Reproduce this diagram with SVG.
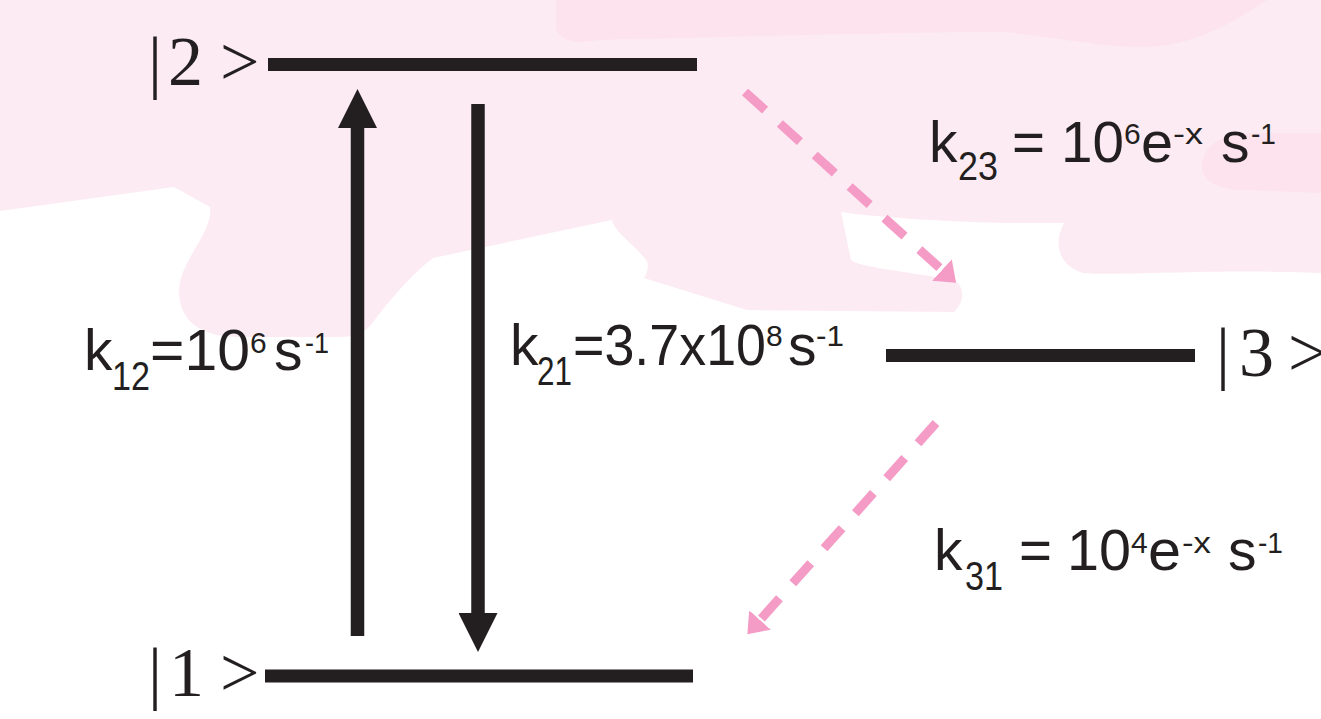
<svg xmlns="http://www.w3.org/2000/svg" width="1321" height="719" viewBox="0 0 1321 719">
<style>
.bg{fill:#fdebf3}
.bg2{fill:#fce3ed}
.bar{stroke:#231f20;stroke-width:13;fill:none}
.shaft{stroke:#231f20;stroke-width:13.5;fill:none}
.dash{stroke:#f49bc6;stroke-width:9;fill:none;stroke-dasharray:27 20}
.state{font-family:"Liberation Serif","Times New Roman",serif;font-size:70px;fill:#231f20}
.rate text{font-family:"Liberation Sans",Arial,sans-serif;font-size:57px;fill:#231f20}
.rate text.sub{font-size:40px}
.rate text.sup{font-size:30px}
</style>
<defs>
<marker id="headBlack" markerUnits="userSpaceOnUse" viewBox="0 -19.5 39 39" refX="0" refY="0" markerWidth="39" markerHeight="39" orient="auto">
<path d="M0,-19.5 L39,0 L0,19.5 Z" fill="#231f20"/>
</marker>
<marker id="headPink" markerUnits="userSpaceOnUse" viewBox="0 -14.5 19 29" refX="0" refY="0" markerWidth="19" markerHeight="29" orient="auto">
<path d="M0,-14.5 L19,0 L0,14.5 Z" fill="#f49bc6"/>
</marker>
</defs>
<rect width="1321" height="719" fill="#ffffff"/>
<g id="background">
<path class="bg" d="M0,0 H1321 V273 L1290,272 C1200,270 1110,276 1083,273 C1060,266 1052,245 1064,223 L1009,223 C960,222 880,218 841,212 L851,260 C856,266 900,271 954,280 C964,286 966,300 954,312 L747,310 L644,278 C648,272 649,264 646,260 C636,246 614,232 612,220 L433,258 C410,276 388,302 370,326 C362,334 352,337 340,337 L240,337 C202,337 180,322 179,293 C178,262 214,232 210,207 L174,187 L0,211 Z"/>
<path class="bg2" d="M556,0 V26 C556,36 566,42 582,42 L600,40 C700,38 900,32 1005,32 C1060,38 1100,47 1142,47 C1190,47 1230,25 1267,0 Z"/>
<path class="bg2" d="M1321,133 L1244,133 C1216,135 1202,150 1202,167 C1202,182 1220,190 1244,190 L1321,193 Z"/>
</g>
<g id="level2">
<line class="bar" x1="268" y1="64.5" x2="697" y2="64.5"/>
<text class="state"><tspan x="148" y="85">|</tspan><tspan x="168" y="85">2</tspan><tspan x="220" y="85">&gt;</tspan></text>
</g>
<g id="level1">
<line class="bar" x1="265" y1="676" x2="693" y2="676"/>
<text class="state"><tspan x="148" y="696">|</tspan><tspan x="169" y="696">1</tspan><tspan x="220" y="696">&gt;</tspan></text>
</g>
<g id="level3">
<line class="bar" x1="886" y1="355.5" x2="1195" y2="355.5"/>
<text class="state"><tspan x="1216" y="376">|</tspan><tspan x="1239" y="376">3</tspan><tspan x="1288" y="376">&gt;</tspan></text>
</g>
<g id="connectors">
<line class="shaft" x1="357.5" y1="636" x2="357.5" y2="128" marker-end="url(#headBlack)"/>
<line class="shaft" x1="478" y1="104" x2="478" y2="613" marker-end="url(#headBlack)"/>
<line class="dash" x1="745" y1="92" x2="942" y2="270" marker-end="url(#headPink)"/>
<line class="dash" x1="936" y1="423" x2="760" y2="620" marker-end="url(#headPink)"/>
</g>
<g id="rate-labels">
<g id="k12" class="rate">
<text x="84" y="370">k</text>
<text class="sub" x="112" y="390" textLength="38" lengthAdjust="spacingAndGlyphs">12</text>
<text x="150" y="370" textLength="100" lengthAdjust="spacingAndGlyphs">=10</text>
<text class="sup" x="250" y="353">6</text>
<text x="274" y="370">s</text>
<text class="sup" x="305" y="353" textLength="24" lengthAdjust="spacingAndGlyphs">-1</text>
</g>
<g id="k21" class="rate">
<text x="510" y="365">k</text>
<text class="sub" x="537" y="385" textLength="35" lengthAdjust="spacingAndGlyphs">21</text>
<text x="573" y="365" textLength="193" lengthAdjust="spacingAndGlyphs">=3.7x10</text>
<text class="sup" x="766" y="346">8</text>
<text x="788" y="365">s</text>
<text class="sup" x="816" y="346" textLength="28" lengthAdjust="spacingAndGlyphs">-1</text>
</g>
<g id="k23" class="rate">
<text x="929" y="162">k</text>
<text class="sub" x="958" y="180" textLength="40" lengthAdjust="spacingAndGlyphs">23</text>
<text x="1012" y="162" textLength="33" lengthAdjust="spacingAndGlyphs">=</text>
<text x="1061" y="162" textLength="63" lengthAdjust="spacingAndGlyphs">10</text>
<text class="sup" x="1124" y="144">6</text>
<text x="1141" y="162" textLength="32" lengthAdjust="spacingAndGlyphs">e</text>
<text class="sup" x="1173" y="144" textLength="30" lengthAdjust="spacingAndGlyphs">-x</text>
<text x="1221" y="162">s</text>
<text class="sup" x="1251" y="144" textLength="25" lengthAdjust="spacingAndGlyphs">-1</text>
</g>
<g id="k31" class="rate">
<text x="934" y="570">k</text>
<text class="sub" x="965" y="590" textLength="38" lengthAdjust="spacingAndGlyphs">31</text>
<text x="1019" y="570" textLength="33" lengthAdjust="spacingAndGlyphs">=</text>
<text x="1067" y="570" textLength="64" lengthAdjust="spacingAndGlyphs">10</text>
<text class="sup" x="1131" y="553">4</text>
<text x="1148" y="570" textLength="33" lengthAdjust="spacingAndGlyphs">e</text>
<text class="sup" x="1182" y="553" textLength="29" lengthAdjust="spacingAndGlyphs">-x</text>
<text x="1228" y="570">s</text>
<text class="sup" x="1258" y="553" textLength="25" lengthAdjust="spacingAndGlyphs">-1</text>
</g>
</g>
</svg>
